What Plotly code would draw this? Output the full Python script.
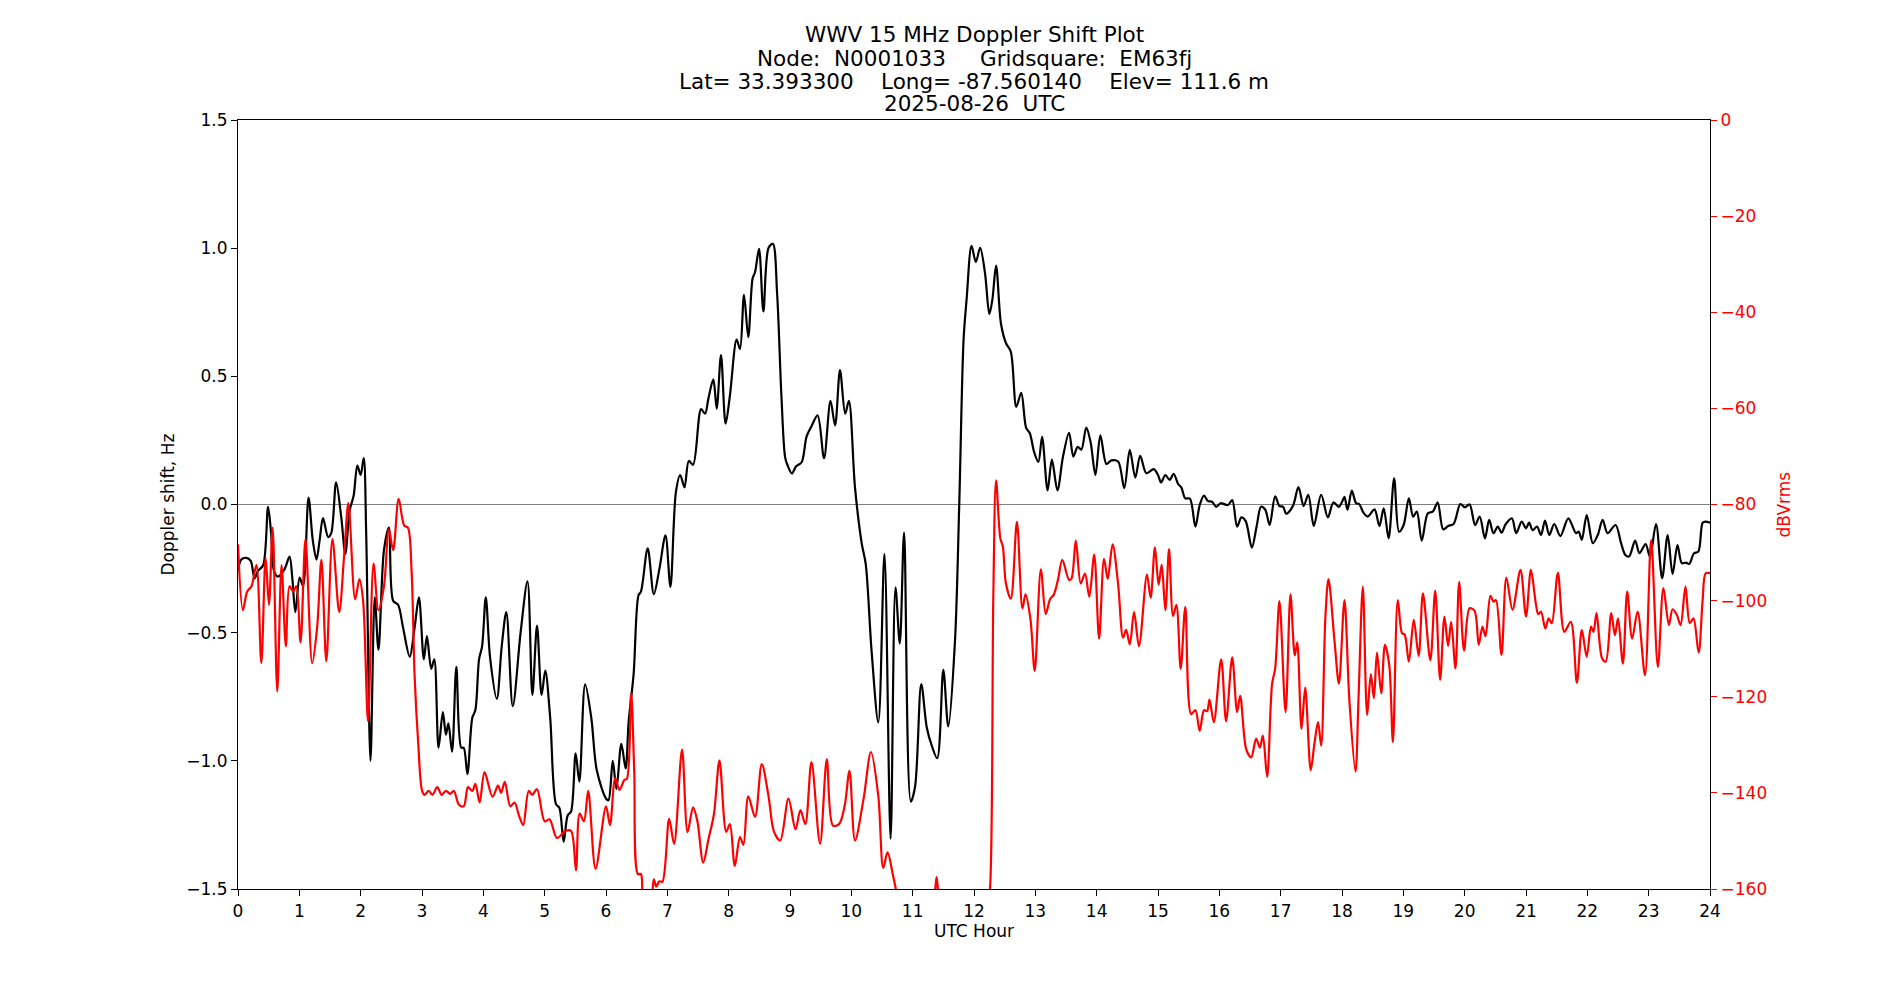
import plotly.graph_objects as go

# ---- Doppler shift (Hz), black trace ----
doppler_hours = [
    0.0, 0.054, 0.136, 0.207, 0.27, 0.326, 0.41, 0.49, 0.54, 0.587, 0.65, 0.76, 0.84, 0.886, 0.935,
    1.005, 1.06, 1.15, 1.22, 1.28, 1.33, 1.386, 1.47, 1.52, 1.60, 1.685, 1.75, 1.82, 1.886, 1.946,
    2.0, 2.05, 2.09, 2.16, 2.23, 2.29, 2.38, 2.46, 2.53, 2.61, 2.69, 2.80, 2.88, 2.95,
    3.03, 3.08, 3.15, 3.2, 3.27, 3.34, 3.39, 3.43, 3.49, 3.56, 3.64, 3.68, 3.74, 3.82, 3.87, 3.93, 3.98,
    4.04, 4.11, 4.22, 4.30, 4.375, 4.48, 4.61, 4.72, 4.80, 4.875, 4.95,
    5.01, 5.09, 5.185, 5.24, 5.31, 5.375, 5.43, 5.505, 5.565, 5.66, 5.76, 5.85,
    6.0, 6.04, 6.11, 6.17, 6.25, 6.32, 6.37, 6.45, 6.53, 6.57, 6.68, 6.78, 6.87, 6.97,
    7.05, 7.14, 7.21, 7.28, 7.35, 7.42, 7.55, 7.615, 7.67, 7.75, 7.805, 7.875, 7.95,
    8.02, 8.13, 8.185, 8.25, 8.32, 8.39, 8.43, 8.495, 8.566, 8.65, 8.72, 8.79, 8.86, 8.92, 8.957,
    9.03, 9.1, 9.19, 9.27, 9.35, 9.45, 9.555, 9.66, 9.735, 9.815, 9.9, 9.96,
    10.06, 10.17, 10.235, 10.33, 10.44, 10.54, 10.64, 10.72, 10.79, 10.86, 10.97,
    11.04, 11.14, 11.23, 11.31, 11.4, 11.50, 11.58, 11.69, 11.76, 11.83, 11.88, 11.96,
    12.03, 12.1, 12.18, 12.25, 12.30, 12.36, 12.44, 12.52, 12.60, 12.69, 12.77, 12.85, 12.91, 12.98,
    13.05, 13.11, 13.2, 13.27, 13.36, 13.45, 13.55, 13.62, 13.69, 13.75, 13.83, 13.9, 13.98,
    14.06, 14.16, 14.24, 14.35, 14.45, 14.54, 14.63, 14.71, 14.81, 14.93,
    15.0, 15.05, 15.12, 15.19, 15.255, 15.33, 15.38, 15.445, 15.52, 15.61, 15.68, 15.75, 15.815, 15.88, 15.95,
    16.02, 16.14, 16.21, 16.29, 16.36, 16.43, 16.53, 16.61, 16.68, 16.75, 16.82, 16.91, 16.98,
    17.04, 17.09, 17.2, 17.29, 17.375, 17.45, 17.54, 17.66, 17.77, 17.86, 17.95,
    18.0, 18.04, 18.09, 18.16, 18.23, 18.28, 18.35, 18.42, 18.53, 18.61, 18.68, 18.76, 18.85, 18.93,
    19.005, 19.09, 19.16, 19.22, 19.3, 19.4, 19.48, 19.56, 19.65, 19.73, 19.82, 19.93,
    20.0, 20.08, 20.17, 20.245, 20.33, 20.4, 20.47, 20.54, 20.6, 20.67, 20.77, 20.84, 20.93,
    21.0, 21.05, 21.11, 21.18, 21.245, 21.31, 21.38, 21.46, 21.56, 21.69, 21.815, 21.86, 21.91, 21.99,
    22.09, 22.17, 22.25, 22.33, 22.46, 22.55, 22.62, 22.68, 22.78, 22.85, 22.95,
    23.02, 23.12, 23.22, 23.31, 23.39, 23.47, 23.54, 23.61, 23.66, 23.74, 23.81, 23.88, 23.93, 24.0,
]
doppler_hz = [
    -0.259, -0.215, -0.208, -0.22, -0.288, -0.259, -0.237, -0.009, -0.112, -0.259, -0.281, -0.252, -0.203, -0.288, -0.42,
    -0.285, -0.318, 0.027, -0.141, -0.215, -0.141, -0.053, -0.127, -0.112, 0.086, -0.053, -0.193, -0.024, 0.035, 0.152,
    0.115, 0.181, -0.112, -1.0, -0.362, -0.567, -0.178, -0.09, -0.376, -0.391, -0.479, -0.594, -0.479, -0.362,
    -0.604, -0.513, -0.641, -0.604, -0.949, -0.81, -0.898, -0.854, -0.964, -0.633, -0.949, -0.949, -1.052, -0.832, -0.802, -0.604, -0.553,
    -0.362, -0.597, -0.758, -0.553, -0.42, -0.787, -0.494, -0.3, -0.743, -0.472, -0.743,
    -0.648, -0.832, -1.169, -1.184, -1.316, -1.213, -1.198, -0.971, -1.081, -0.702, -0.832, -1.037,
    -1.147, -1.154, -1.0, -1.11, -0.934, -1.03, -0.846, -0.663, -0.354, -0.34, -0.171, -0.35, -0.252, -0.12,
    -0.321, 0.049, 0.115, 0.067, 0.17, 0.155, 0.372, 0.354, 0.414, 0.488, 0.374, 0.583, 0.315,
    0.424, 0.643, 0.607, 0.818, 0.653, 0.882, 0.906, 0.997, 0.753, 1.001, 1.017, 0.822, 0.424, 0.185, 0.155,
    0.121, 0.149, 0.165, 0.265, 0.305, 0.348, 0.181, 0.404, 0.309, 0.524, 0.354, 0.404,
    0.066, -0.153, -0.233, -0.571, -0.85, -0.193, -1.304, -0.323, -0.542, -0.11, -1.159,
    -1.099, -0.701, -0.87, -0.94, -0.99, -0.645, -0.866, -0.532, 0.006, 0.643, 0.802, 1.009,
    0.946, 1.001, 0.902, 0.743, 0.80, 0.932, 0.705, 0.63, 0.596, 0.381, 0.436, 0.299, 0.278, 0.205,
    0.166, 0.264, 0.055, 0.175, 0.055, 0.185, 0.28, 0.187, 0.225, 0.214, 0.3, 0.245, 0.115,
    0.27, 0.158, 0.172, 0.168, 0.064, 0.213, 0.105, 0.19, 0.122, 0.138,
    0.115, 0.086, 0.115, 0.096, 0.12, 0.079, 0.067, 0.024, 0.023, -0.086, -0.002, 0.035, 0.013, 0.011, -0.009,
    0.005, -0.002, 0.017, -0.086, -0.05, -0.065, -0.168, -0.083, -0.009, -0.021, -0.08, 0.032, -0.006,
    -0.009, -0.036, -0.006, 0.068, -0.006, 0.038, -0.083, 0.038, -0.05, 0.008, -0.009,
    0.01, 0.03, -0.021, 0.054, 0.005, 0.002, -0.032, -0.047, -0.019, -0.084, -0.015, -0.132, 0.102, -0.106,
    -0.08, 0.024, -0.047, -0.028, -0.141, -0.034, -0.028, 0.007, -0.097, -0.084, -0.076, 0.002,
    -0.011, 0.0, -0.08, -0.047, -0.132, -0.06, -0.112, -0.086, -0.11, -0.076, -0.054, -0.112, -0.067,
    -0.093, -0.071, -0.1, -0.086, -0.119, -0.063, -0.119, -0.076, -0.123, -0.054, -0.112, -0.106, -0.138, -0.041,
    -0.151, -0.119, -0.06, -0.112, -0.08, -0.151, -0.197, -0.203, -0.141, -0.19, -0.154,
    -0.203, -0.076, -0.288, -0.119, -0.271, -0.158, -0.229, -0.227, -0.232, -0.19, -0.184, -0.071, -0.067, -0.071,
]

# ---- Signal level (dBVrms), red trace ----
level_hours = [
    0.0, 0.08, 0.15, 0.22, 0.3, 0.38, 0.45, 0.505, 0.565, 0.64, 0.71, 0.78, 0.84, 0.9, 0.95,
    1.02, 1.10, 1.21, 1.29, 1.36, 1.44, 1.54, 1.65, 1.73, 1.80, 1.91, 1.98,
    2.04, 2.12, 2.21, 2.29, 2.38, 2.46, 2.53, 2.62, 2.71, 2.77, 2.83, 2.88, 2.94,
    3.0, 3.04, 3.11, 3.17, 3.25, 3.32, 3.39, 3.46, 3.52, 3.6, 3.68, 3.75, 3.82, 3.87, 3.94,
    4.02, 4.15, 4.24, 4.29, 4.35, 4.44, 4.51, 4.58, 4.65, 4.74, 4.80, 4.875,
    5.0, 5.08, 5.2, 5.34, 5.43, 5.51, 5.57, 5.64, 5.71, 5.83,
    6.0, 6.065, 6.15, 6.22, 6.3, 6.34, 6.41, 6.46, 6.52, 6.57, 6.62, 6.72, 6.78, 6.82, 6.87, 6.92,
    7.03, 7.11, 7.24, 7.33, 7.42, 7.49, 7.585, 7.67, 7.76, 7.85, 7.96,
    8.02, 8.1, 8.185, 8.24, 8.32, 8.43, 8.54, 8.65, 8.74, 8.84, 8.975,
    9.09, 9.17, 9.25, 9.35, 9.49, 9.6, 9.7, 9.8, 9.89, 9.97,
    10.06, 10.2, 10.32, 10.44, 10.52, 10.59, 10.68, 10.74, 10.8,
    11.3, 11.36, 11.39, 11.42, 11.48,
    12.2, 12.26, 12.315, 12.36, 12.43, 12.47, 12.52, 12.6, 12.7, 12.79, 12.84, 12.92, 12.99,
    13.09, 13.17, 13.24, 13.3, 13.37, 13.44, 13.55, 13.59, 13.66, 13.74, 13.81, 13.88, 13.96,
    14.04, 14.12, 14.18, 14.26, 14.35, 14.43, 14.48, 14.54, 14.61, 14.69, 14.82, 14.88, 14.95,
    15.01, 15.06, 15.12, 15.18, 15.245, 15.3, 15.37, 15.445, 15.54, 15.61, 15.68, 15.75, 15.8, 15.84, 15.91,
    16.03, 16.11, 16.21, 16.29, 16.34, 16.44, 16.52, 16.6, 16.66, 16.71, 16.78, 16.86, 16.91, 16.98,
    17.08, 17.16, 17.23, 17.27, 17.34, 17.4, 17.49, 17.55, 17.61, 17.66, 17.73, 17.78, 17.88, 17.95,
    18.04, 18.12, 18.22, 18.27, 18.34, 18.41, 18.47, 18.52, 18.57, 18.64, 18.7, 18.77, 18.83, 18.91, 18.98,
    19.02, 19.09, 19.17, 19.25, 19.32, 19.44, 19.52, 19.6, 19.67, 19.73, 19.78, 19.85, 19.91, 19.99,
    20.08, 20.16, 20.23, 20.29, 20.34, 20.42, 20.47, 20.51, 20.6, 20.68, 20.78, 20.91,
    21.0, 21.08, 21.16, 21.2, 21.245, 21.315, 21.37, 21.42, 21.52, 21.625, 21.73, 21.83, 21.91, 21.99,
    22.06, 22.1, 22.15, 22.24, 22.3, 22.39, 22.45, 22.5, 22.58, 22.65, 22.73, 22.82, 22.94,
    23.04, 23.15, 23.24, 23.33, 23.39, 23.46, 23.52, 23.6, 23.67, 23.73, 23.815, 23.88, 23.93, 24.0,
]
level_dbv = [
    -88.3, -102.0, -98.1, -97.0, -92.6, -113.0, -91.1, -100.9, -84.8, -118.9, -92.6, -109.5, -97.0, -98.1, -97.0,
    -108.7, -87.2, -113.0, -105.6, -91.5, -112.6, -87.2, -102.4, -90.7, -79.7, -99.7, -95.5,
    -100.1, -125.1, -92.3, -102.0, -97.0, -85.2, -89.5, -78.8, -84.4, -84.8, -93.8, -115.8, -130.0,
    -139.5, -140.4, -139.6, -140.4, -138.8, -140.4, -139.6, -140.2, -139.6, -142.4, -142.8, -138.8, -139.6, -138.1, -142.0,
    -135.7, -140.8, -138.5, -140.0, -137.7, -142.8, -142.0, -144.7, -146.7, -139.6, -140.4, -139.2,
    -145.9, -145.5, -149.4, -147.9, -147.9, -156.1, -144.3, -145.9, -139.6, -155.8,
    -142.8, -146.7, -136.9, -139.4, -137.3, -137.1, -119.3, -135.3, -156.9, -156.9, -163.0, -163.0, -158.0, -159.5, -158.4, -158.5,
    -145.4, -150.6, -131.0, -148.2, -143.0, -145.9, -154.5, -149.7, -144.4, -133.3, -148.1,
    -146.5, -155.2, -149.2, -150.8, -140.7, -145.0, -134.0, -140.7, -148.1, -149.9, -141.2,
    -147.6, -143.6, -146.5, -133.6, -150.6, -133.0, -146.8, -146.5, -142.8, -135.4,
    -149.9, -141.2, -131.5, -140.7, -155.6, -152.4, -157.2, -161.0, -166.0,
    -166.0, -161.0, -157.5, -161.0, -166.0,
    -166.0, -160.2, -99.0, -75.0, -87.1, -88.7, -96.4, -99.6, -83.6, -101.6, -98.7, -103.8, -114.6,
    -93.5, -102.8, -99.7, -98.8, -95.6, -91.5, -95.7, -95.4, -87.5, -96.4, -94.4, -99.2, -90.4,
    -107.9, -91.3, -95.5, -88.3, -96.6, -107.7, -106.1, -109.1, -102.4, -109.5, -94.6, -99.4, -88.9,
    -96.7, -92.5, -102.0, -89.3, -103.2, -100.9, -114.2, -101.3, -123.6, -122.8, -127.1, -122.8, -123.0, -120.6, -125.3,
    -112.2, -125.1, -111.8, -123.2, -119.8, -131.0, -132.6, -128.7, -130.6, -128.1, -136.7, -117.3, -114.2, -100.1,
    -123.2, -98.7, -111.4, -108.7, -126.7, -118.1, -135.3, -129.8, -125.3, -130.2, -103.2, -95.5, -108.7, -117.3,
    -99.9, -120.7, -135.6, -120.0, -97.1, -123.8, -115.3, -120.3, -110.8, -119.3, -109.2, -113.4, -129.4, -99.9, -106.8,
    -107.0, -112.7, -104.0, -111.5, -98.5, -112.4, -97.9, -116.5, -103.3, -109.4, -104.4, -114.1, -96.1, -110.4,
    -101.6, -102.1, -109.2, -105.4, -107.4, -99.0, -100.2, -99.9, -111.3, -95.2, -101.9, -93.6,
    -103.3, -93.6, -100.6, -102.8, -102.3, -105.8, -103.7, -104.7, -94.2, -106.5, -104.4, -117.1, -106.1, -111.7,
    -105.4, -106.5, -102.6, -112.0, -112.7, -102.6, -107.2, -103.7, -113.1, -98.1, -107.9, -102.3, -115.5,
    -87.4, -113.8, -97.4, -105.1, -101.8, -103.0, -105.1, -97.1, -104.7, -103.7, -110.8, -99.9, -94.3, -94.3,
]

title_lines = [
    "WWV 15 MHz Doppler Shift Plot",
    "Node:  N0001033     Gridsquare:  EM63fj",
    "Lat= 33.393300    Long= -87.560140    Elev= 111.6 m",
    "2025-08-26  UTC",
]
x_ticks = list(range(0, 25))
y_ticks = [-1.5, -1.0, -0.5, 0.0, 0.5, 1.0, 1.5]
y_tick_text = ["\u22121.5", "\u22121.0", "\u22120.5", "0.0", "0.5", "1.0", "1.5"]
y2_ticks = [-160, -140, -120, -100, -80, -60, -40, -20, 0]
y2_tick_text = ["\u2212160", "\u2212140", "\u2212120", "\u2212100", "\u221280", "\u221260", "\u221240", "\u221220", "0"]

FONT = "DejaVu Sans"
W, H = 1900, 1000
L, R, T, B = 238, 190, 120, 111
PH = H - T - B

fig = go.Figure()
fig.add_trace(go.Scatter(x=doppler_hours, y=doppler_hz, mode="lines",
                         line=dict(color="black", width=2.2, shape="spline", smoothing=0.9),
                         yaxis="y", showlegend=False))
fig.add_trace(go.Scatter(x=level_hours, y=level_dbv, mode="lines",
                         line=dict(color="red", width=2.2, shape="spline", smoothing=0.9),
                         yaxis="y2", showlegend=False))

fig.add_shape(type="line", xref="x", yref="y", x0=0, x1=24, y0=0, y1=0,
              line=dict(color="grey", width=1.2), layer="below")

def py(pix):
    return 1 + (T - pix) / PH

annotations = []
for i, line in enumerate(title_lines):
    annotations.append(dict(text=line, xref="paper", yref="paper", x=0.5, y=py(35 + 23 * i),
                            xanchor="center", yanchor="middle", showarrow=False,
                            font=dict(family=FONT, size=21.5, color="black")))
annotations.append(dict(text="UTC Hour", xref="paper", yref="paper", x=0.5, y=py(931),
                        xanchor="center", yanchor="middle", showarrow=False,
                        font=dict(family=FONT, size=17, color="black")))
annotations.append(dict(text="Doppler shift, Hz", xref="paper", yref="paper",
                        x=(167 - L) / (W - L - R), y=0.5, xanchor="center", yanchor="middle",
                        textangle=-90, showarrow=False,
                        font=dict(family=FONT, size=17, color="black")))
annotations.append(dict(text="dBVrms", xref="paper", yref="paper",
                        x=(1783 - L) / (W - L - R), y=0.5, xanchor="center", yanchor="middle",
                        textangle=-90, showarrow=False,
                        font=dict(family=FONT, size=17, color="red")))

fig.update_layout(
    width=W, height=H,
    margin=dict(l=L, r=R, t=T, b=B, pad=0),
    paper_bgcolor="white", plot_bgcolor="white",
    font=dict(family=FONT, size=17, color="black"),
    annotations=annotations,
    xaxis=dict(range=[0, 24], tickmode="array", tickvals=x_ticks, ticktext=[str(t) for t in x_ticks],
               showgrid=False, zeroline=False, showline=True, linecolor="black", linewidth=1.2,
               mirror=True, ticks="outside", ticklen=6, tickwidth=1.2, tickcolor="black",
               tickfont=dict(family=FONT, size=17, color="black")),
    yaxis=dict(range=[-1.5, 1.5], tickmode="array", tickvals=y_ticks, ticktext=y_tick_text,
               showgrid=False, zeroline=False, showline=True, linecolor="black", linewidth=1.2,
               ticks="outside", ticklen=6, tickwidth=1.2, tickcolor="black",
               tickfont=dict(family=FONT, size=17, color="black")),
    yaxis2=dict(range=[-160, 0], overlaying="y", side="right", tickmode="array",
                tickvals=y2_ticks, ticktext=y2_tick_text,
                showgrid=False, zeroline=False, showline=True, linecolor="black", linewidth=1.2,
                ticks="outside", ticklen=6, tickwidth=1.2, tickcolor="red",
                tickfont=dict(family=FONT, size=17, color="red")),
)

fig.write_html("out.html")
